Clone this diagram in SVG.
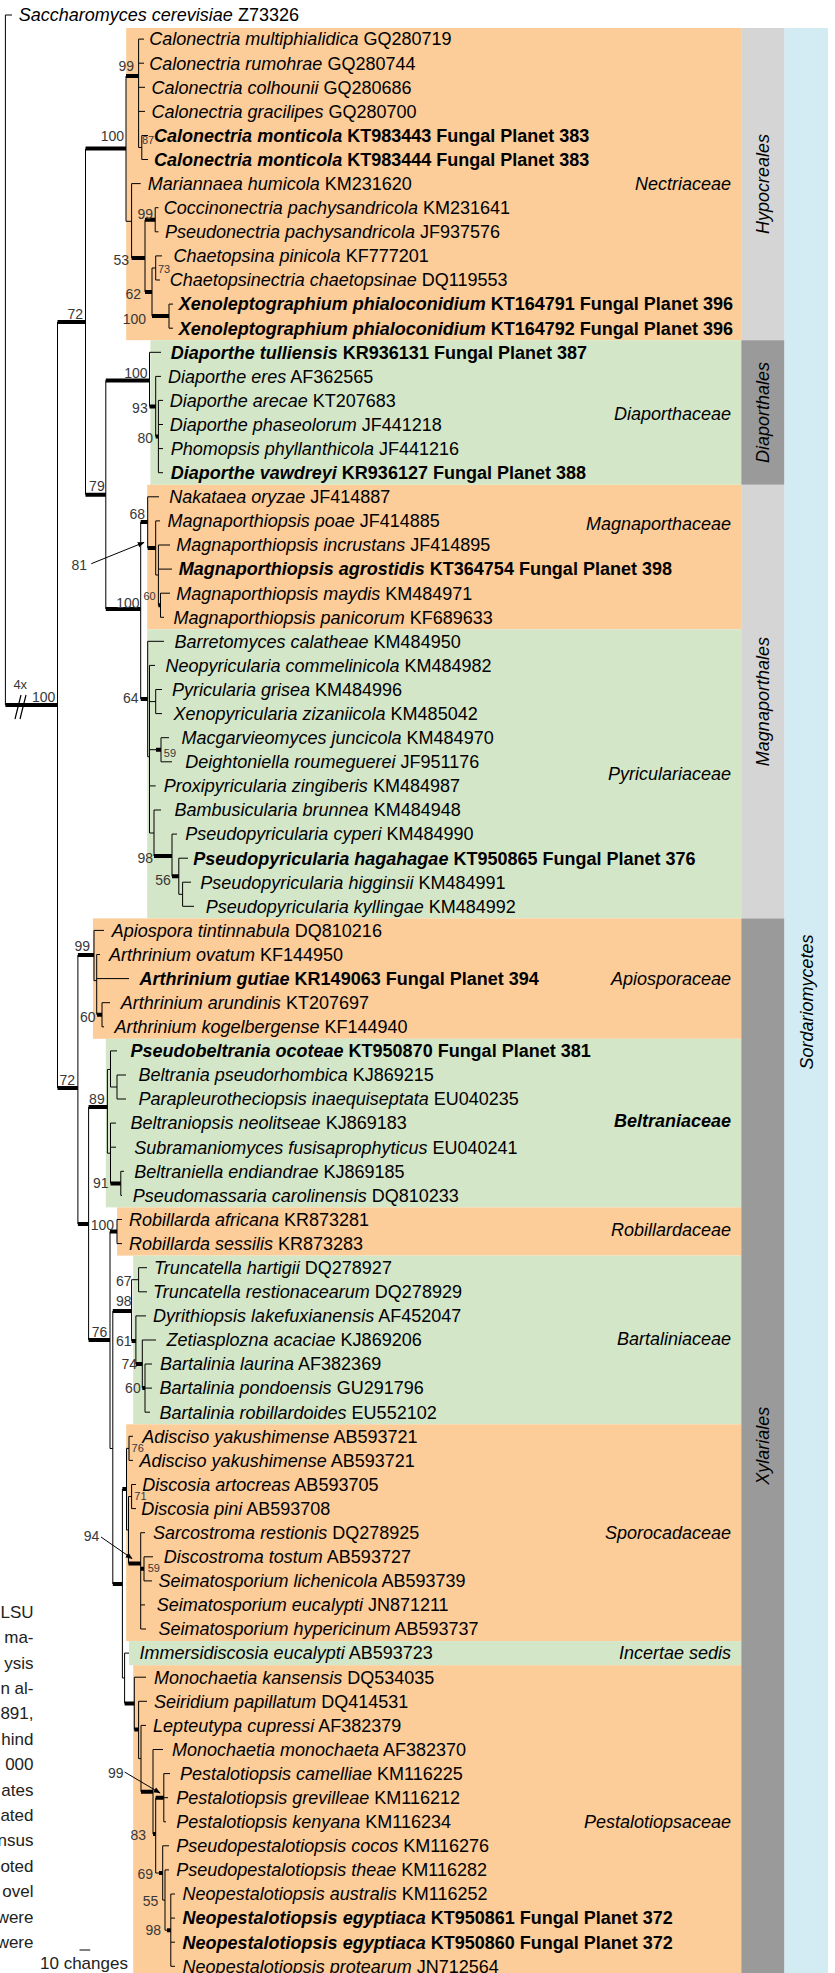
<svg xmlns="http://www.w3.org/2000/svg" width="835" height="1973" viewBox="0 0 835 1973">
<defs>
<style>
.t{font-family:"Liberation Sans",Arial,sans-serif;font-size:18px;fill:#000}
.i{font-style:italic}
.b{font-weight:bold}
.fam{font-family:"Liberation Sans",Arial,sans-serif;font-size:18px;font-style:italic;text-anchor:end;fill:#000}
.ord{font-family:"Liberation Sans",Arial,sans-serif;font-size:18px;font-style:italic;text-anchor:middle;fill:#000}
.bs{font-family:"Liberation Sans",Arial,sans-serif;font-size:14px;fill:#383838;text-anchor:end}
.bss{font-family:"Liberation Sans",Arial,sans-serif;font-size:11px;fill:#383838}
.cap{font-family:"Liberation Sans",Arial,sans-serif;font-size:17px;fill:#222;text-anchor:end}
.thin{fill:none;stroke:#000;stroke-width:1}
.thick{fill:none;stroke:#000;stroke-width:4}
.or{fill:#FCCC99}
.gr{fill:#D4E6C8}
</style>
<marker id="ah" viewBox="0 0 10 10" refX="9" refY="5" markerWidth="7" markerHeight="7" orient="auto"><path d="M0,1 L10,5 L0,9 Z" fill="#000"/></marker>
</defs>
<rect width="835" height="1973" fill="#fff"/>
<g id="bands">
<rect x="784.2" y="28" width="43.8" height="1945" fill="#D3ECF3"/>
<rect x="741.2" y="28" width="43" height="312.2" fill="#D5D5D5"/>
<rect x="741.2" y="340.2" width="43" height="144.6" fill="#9A9A9A"/>
<rect x="741.2" y="484.8" width="43" height="433.6" fill="#D5D5D5"/>
<rect x="741.2" y="918.4" width="43" height="1054.6" fill="#9A9A9A"/>
<rect class="or" x="126.2" y="28" width="615" height="312.2"/>
<rect class="gr" x="150.4" y="340.2" width="590.8" height="144.6"/>
<rect class="or" x="147.2" y="484.8" width="594" height="144.5"/>
<rect class="gr" x="147.2" y="629.3" width="594" height="289.1"/>
<rect class="or" x="92.9" y="918.4" width="648.3" height="120.4"/>
<rect class="gr" x="105.8" y="1038.8" width="635.4" height="168.6"/>
<rect class="or" x="117.1" y="1207.4" width="624.1" height="48.2"/>
<rect class="gr" x="133.2" y="1255.6" width="608" height="168.7"/>
<rect class="or" x="126.2" y="1424.3" width="615" height="216.8"/>
<rect class="gr" x="128.9" y="1641.1" width="612.3" height="24.1"/>
<rect class="or" x="133.2" y="1665.2" width="608" height="307.8"/>
<text class="ord" transform="translate(768.5,184) rotate(-90)">Hypocreales</text>
<text class="ord" transform="translate(768.5,412.5) rotate(-90)">Diaporthales</text>
<text class="ord" transform="translate(768.5,701.6) rotate(-90)">Magnaporthales</text>
<text class="ord" transform="translate(768.5,1445.7) rotate(-90)">Xylariales</text>
<text class="ord" transform="translate(812.5,1002) rotate(-90)">Sordariomycetes</text>
<text class="fam" x="731" y="189.9">Nectriaceae</text>
<text class="fam" x="731" y="420.3">Diaporthaceae</text>
<text class="fam" x="731" y="530.3">Magnaporthaceae</text>
<text class="fam" x="731" y="780.3">Pyriculariaceae</text>
<text class="fam" x="731" y="984.9">Apiosporaceae</text>
<text class="fam" x="731" y="1127.3" font-weight="bold">Beltraniaceae</text>
<text class="fam" x="731" y="1236.3">Robillardaceae</text>
<text class="fam" x="731" y="1345.3">Bartaliniaceae</text>
<text class="fam" x="731" y="1539">Sporocadaceae</text>
<text class="fam" x="731" y="1659.4">Incertae sedis</text>
<text class="fam" x="731" y="1828.1">Pestalotiopsaceae</text>
</g>
<g id="connectors">
<path class="thin" d="M5.4,15V705M5.4,15H12M57.5,322V1088M85.5,149V494.7
M126,76V221.3M138.6,39.1V147.5M138.6,147.5H141.8M141.8,135.5V159.5M131.6,183.6V258M126,221.3H131.6
M145,219.8V292M155.2,207.7V231.8M152,268V316.1M155.7,255.9V280M152,268H155.7M169,304.1V328.2
M105.8,380.4V609M149.5,352.3V406.5M155.7,376.4V436.6M158.4,400.4V472.7
M140.7,521.9V699M147.7,496.8V548M155.7,520.9V575M158.4,545V605.2M155.7,575H158.4M160.5,593.2V617.3M158.4,605.2H160.5
M147.7,641.3V756.7M149.5,665.4V833M147.7,756.7H149.5M155.7,689.5V713.6M149.5,701.6H155.7M161,737.7V761.8M149.5,749.7H161
M154,810V856M149.5,833H154M172,834.1V876.2M178.8,858.2V894.3M182.6,882.2V906.3M178.8,894.3H182.6
M77.9,955V1224M94,930.4V980.6M96.7,954.5V1014.7M94,980.6H96.7M102,1002.7V1026.8
M88.6,1107V1340M107.4,1069.5V1153.2M110.5,1050.9V1087M107.4,1069.5H110.5M117,1075V1099M110.5,1087H117
M110.5,1123.1V1183.4M107.4,1153.2H110.5M120.8,1171.3V1195.4
M110,1231.5V1448.5M117,1219.5V1243.6M112.8,1311V1584M110,1448.5H112.8
M131.6,1279.7V1340.9M138.6,1267.7V1291.8M131.6,1279.7H138.6M135.9,1315.9V1364M142.3,1340V1388.1M145,1364V1412.2
M122.4,1489V1678M126.5,1448.4V1530M129,1436.3V1460.4M126.5,1448.4H129M128.5,1496.5V1563.5M126.5,1530H128.5
M131.6,1484.5V1508.6M128.5,1496.5H131.6M140.7,1532.7V1629M144,1556.8V1580.9M140.7,1568.8H144
M124.6,1653.1V1703.4M122.4,1678H124.6M134.3,1677.2V1729.6M138.6,1701.3V1758.6M141,1725.4V1791.8M138.6,1758.6H141
M153,1749.5V1834M155.7,1797.7V1873M163.8,1773.6V1821.8M162.7,1845.8V1900.1M155.7,1873H162.7M165,1869.9V1930.2M162.7,1900.1H165
M170.8,1894V1966.3M165,1930.2H170.8
M138.6,39.1H144M138.6,63.2H144M138.6,87.3H145M138.6,111.4H145M141.8,135.5H148M141.8,159.5H148M131.6,183.6H140.7
M155.2,207.7H158.5M155.2,231.8H158.5M155.7,255.9H162M155.7,280H160M169,304.1H173M169,328.2H173
M149.5,352.3H161M155.7,376.4H161M158.4,400.4H163M158.4,424.5H163M158.4,448.6H163M158.4,472.7H163
M147.7,496.8H159M155.7,520.9H160M158.4,545H170M158.4,569.1H172M160.5,593.2H170M160.5,617.3H164
M147.7,641.3H164M149.5,665.4H155M155.7,689.5H162M155.7,713.6H162M161,737.7H169M161,761.8H172M149.5,785.9H155.7
M154,810H161M172,834.1H177M178.8,858.2H188M182.6,882.2H191M182.6,906.3H194
M94,930.4H104M96.7,954.5H100M96.7,978.6H129M102,1002.7H110M102,1026.8H104
M110.5,1050.9H117M117,1075H126M117,1099H126M110.5,1123.1H116M110.5,1147.2H116M120.8,1171.3H124M120.8,1195.4H122
M117,1219.5H122M117,1243.6H122M138.6,1267.7H147M138.6,1291.8H147M135.9,1315.9H146M142.3,1340H156
M145,1364H152M145,1388.1H152M145,1412.2H150
M129,1436.3H133M129,1460.4H133M131.6,1484.5H136M131.6,1508.6H136M140.7,1532.7H145M144,1556.8H153M144,1580.9H152
M140.7,1604.9H145M140.7,1629H146M124.6,1653.1H129M134.3,1677.2H146M138.6,1701.3H147M141,1725.4H146
M153,1749.5H163M163.8,1773.6H170M163.8,1797.7H168M163.8,1821.8H166M162.7,1845.8H169M165,1869.9H169
M170.8,1894H175M170.8,1918.1H175M170.8,1942.2H175M170.8,1966.3H175"/>
<path class="thick" d="M5.4,705H57.5M57.5,322H85.5M57.5,1088H77.9M85.5,148.6H126M126,76H138.6M131.6,258H145M145,219.8H155.2
M145,292H152M152,316.1H169M85.5,494.7H105.8M105.8,380.4H149.5M149.5,406.5H155.7M155.7,436.6H158.4
M105.8,609H140.7M140.7,521.9H147.7M147.7,548H155.7M140.7,699H147.7M156,749.7H161M158.4,605.2H160.5
M154,856H172M172,876.2H178.8M77.9,955H94M97,1014.7H102M77.9,1224H88.6M88.6,1107H107.4M110.5,1183.4H120.8
M88.6,1340H110M110,1231.5H117M112.8,1311H131.6M131.6,1340.9H135.9M135.9,1364H142.3M142.3,1388.1H145
M112.8,1584H122.4M122.4,1489H126.5M128.5,1563.5H140.7M140.7,1568.8H144M124.6,1703.4H134.3M134.3,1729.6H138.6
M141,1791.8H153M153,1834H155.7M155.7,1797.7H163.8M159,1873H162.7M167,1930.2H170.8"/>
<path d="M15,719L21,695M20,719L26,695" stroke="#000" stroke-width="1.2" fill="none"/>
<path class="thin" d="M91.3,563.7L144,542.4" marker-end="url(#ah)"/>
<path class="thin" d="M101,1537L132,1558.5" marker-end="url(#ah)"/>
<path class="thin" d="M124.6,1772L160,1793" marker-end="url(#ah)"/>
<path class="thin" d="M79.5,1950H90.2" stroke-width="1.5"/>
</g>
<g id="support">
<text class="bs" x="13.4" y="689" style="text-anchor:start;font-size:13px">4x</text>
<text class="bs" x="32" y="702" style="text-anchor:start">100</text>
<text class="bs" x="134" y="70.5">99</text>
<text class="bs" x="124" y="141">100</text>
<text class="bss" x="142" y="144">87</text>
<text class="bs" x="129" y="264.5">53</text>
<text class="bs" x="153" y="218.5">99</text>
<text class="bss" x="158" y="273">73</text>
<text class="bs" x="141" y="299">62</text>
<text class="bs" x="146" y="323.5">100</text>
<text class="bs" x="83" y="318.5">72</text>
<text class="bs" x="147.5" y="377.5">100</text>
<text class="bs" x="147.7" y="412.5">93</text>
<text class="bs" x="153" y="442.5">80</text>
<text class="bs" x="104.7" y="491">79</text>
<text class="bs" x="145" y="519">68</text>
<text class="bs" x="87" y="570">81</text>
<text class="bss" x="155.7" y="600" style="text-anchor:end">60</text>
<text class="bs" x="139.6" y="607.5">100</text>
<text class="bs" x="138.6" y="703">64</text>
<text class="bss" x="163.8" y="757">59</text>
<text class="bs" x="153" y="863">98</text>
<text class="bs" x="170.8" y="884.5">56</text>
<text class="bs" x="90" y="950.5">99</text>
<text class="bs" x="95.6" y="1022">60</text>
<text class="bs" x="75" y="1085">72</text>
<text class="bs" x="104.7" y="1103.5">89</text>
<text class="bs" x="108.5" y="1188">91</text>
<text class="bs" x="114" y="1230">100</text>
<text class="bs" x="131.6" y="1286">67</text>
<text class="bs" x="131.6" y="1306">98</text>
<text class="bs" x="107.4" y="1336.5">76</text>
<text class="bs" x="131.6" y="1346">61</text>
<text class="bs" x="137" y="1369">74</text>
<text class="bs" x="140.7" y="1393">60</text>
<text class="bss" x="131.6" y="1452">76</text>
<text class="bss" x="134.3" y="1500">71</text>
<text class="bs" x="99.4" y="1540.5">94</text>
<text class="bss" x="147.7" y="1572">59</text>
<text class="bs" x="123.5" y="1778">99</text>
<text class="bs" x="146" y="1840">83</text>
<text class="bs" x="153" y="1878.5">69</text>
<text class="bs" x="158.4" y="1906">55</text>
<text class="bs" x="161" y="1935">98</text>
</g>
<g id="caption">
<text class="cap" x="33.5" y="1617.7">LSU</text>
<text class="cap" x="33.5" y="1643.1">ma-</text>
<text class="cap" x="33.5" y="1668.5">ysis</text>
<text class="cap" x="33.5" y="1693.9">n al-</text>
<text class="cap" x="33.5" y="1719.3">891,</text>
<text class="cap" x="33.5" y="1744.7">hind</text>
<text class="cap" x="33.5" y="1770.1">000</text>
<text class="cap" x="33.5" y="1795.5">ates</text>
<text class="cap" x="33.5" y="1820.9">ated</text>
<text class="cap" x="33.5" y="1846.3">nsus</text>
<text class="cap" x="33.5" y="1871.7">oted</text>
<text class="cap" x="33.5" y="1897.1">ovel</text>
<text class="cap" x="33.5" y="1922.5">were</text>
<text class="cap" x="33.5" y="1947.9">were</text>
<text class="cap" x="40" y="1969" style="text-anchor:start">10 changes</text>
</g>
<g id="taxa">
<g id="n1"><text class="t" x="18.8" y="21.3"><tspan class="i">Saccharomyces cerevisiae</tspan> Z73326</text></g>
<g id="n2"><text class="t" x="149.3" y="45.4"><tspan class="i">Calonectria multiphialidica</tspan> GQ280719</text></g>
<g id="n3"><text class="t" x="149.3" y="69.5"><tspan class="i">Calonectria rumohrae</tspan> GQ280744</text></g>
<g id="n4"><text class="t" x="151.4" y="93.6"><tspan class="i">Calonectria colhounii</tspan> GQ280686</text></g>
<g id="n5"><text class="t" x="151.4" y="117.7"><tspan class="i">Calonectria gracilipes</tspan> GQ280700</text></g>
<g id="n6"><text class="t b" x="154.1" y="141.8"><tspan class="i">Calonectria monticola</tspan> KT983443 Fungal Planet 383</text></g>
<g id="n7"><text class="t b" x="154.1" y="165.8"><tspan class="i">Calonectria monticola</tspan> KT983444 Fungal Planet 383</text></g>
<g id="n8"><text class="t" x="147.7" y="189.9"><tspan class="i">Mariannaea humicola</tspan> KM231620</text></g>
<g id="n9"><text class="t" x="163.8" y="214"><tspan class="i">Coccinonectria pachysandricola</tspan> KM231641</text></g>
<g id="n10"><text class="t" x="164.9" y="238.1"><tspan class="i">Pseudonectria pachysandricola</tspan> JF937576</text></g>
<g id="n11"><text class="t" x="173.5" y="262.2"><tspan class="i">Chaetopsina pinicola</tspan> KF777201</text></g>
<g id="n12"><text class="t" x="169.7" y="286.3"><tspan class="i">Chaetopsinectria chaetopsinae</tspan> DQ119553</text></g>
<g id="n13"><text class="t b" x="178.8" y="310.4"><tspan class="i">Xenoleptographium phialoconidium</tspan> KT164791 Fungal Planet 396</text></g>
<g id="n14"><text class="t b" x="178.8" y="334.5"><tspan class="i">Xenoleptographium phialoconidium</tspan> KT164792 Fungal Planet 396</text></g>
<g id="n15"><text class="t b" x="170.8" y="358.6"><tspan class="i">Diaporthe tulliensis</tspan> KR936131 Fungal Planet 387</text></g>
<g id="n16"><text class="t" x="168.1" y="382.7"><tspan class="i">Diaporthe eres</tspan> AF362565</text></g>
<g id="n17"><text class="t" x="169.7" y="406.7"><tspan class="i">Diaporthe arecae</tspan> KT207683</text></g>
<g id="n18"><text class="t" x="169.7" y="430.8"><tspan class="i">Diaporthe phaseolorum</tspan> JF441218</text></g>
<g id="n19"><text class="t" x="170.8" y="454.9"><tspan class="i">Phomopsis phyllanthicola</tspan> JF441216</text></g>
<g id="n20"><text class="t b" x="170.8" y="479"><tspan class="i">Diaporthe vawdreyi</tspan> KR936127 Fungal Planet 388</text></g>
<g id="n21"><text class="t" x="169.2" y="503.1"><tspan class="i">Nakataea oryzae</tspan> JF414887</text></g>
<g id="n22"><text class="t" x="167.6" y="527.2"><tspan class="i">Magnaporthiopsis poae</tspan> JF414885</text></g>
<g id="n23"><text class="t" x="176.2" y="551.3"><tspan class="i">Magnaporthiopsis incrustans</tspan> JF414895</text></g>
<g id="n24"><text class="t b" x="178.8" y="575.4"><tspan class="i">Magnaporthiopsis agrostidis</tspan> KT364754 Fungal Planet 398</text></g>
<g id="n25"><text class="t" x="176.2" y="599.5"><tspan class="i">Magnaporthiopsis maydis</tspan> KM484971</text></g>
<g id="n26"><text class="t" x="173.5" y="623.6"><tspan class="i">Magnaporthiopsis panicorum</tspan> KF689633</text></g>
<g id="n27"><text class="t" x="174.5" y="647.6"><tspan class="i">Barretomyces calatheae</tspan> KM484950</text></g>
<g id="n28"><text class="t" x="165.4" y="671.7"><tspan class="i">Neopyricularia commelinicola</tspan> KM484982</text></g>
<g id="n29"><text class="t" x="171.9" y="695.8"><tspan class="i">Pyricularia grisea</tspan> KM484996</text></g>
<g id="n30"><text class="t" x="173.5" y="719.9"><tspan class="i">Xenopyricularia zizaniicola</tspan> KM485042</text></g>
<g id="n31"><text class="t" x="181.5" y="744"><tspan class="i">Macgarvieomyces juncicola</tspan> KM484970</text></g>
<g id="n32"><text class="t" x="185.3" y="768.1"><tspan class="i">Deightoniella roumeguerei</tspan> JF951176</text></g>
<g id="n33"><text class="t" x="163.8" y="792.2"><tspan class="i">Proxipyricularia zingiberis</tspan> KM484987</text></g>
<g id="n34"><text class="t" x="174.5" y="816.3"><tspan class="i">Bambusicularia brunnea</tspan> KM484948</text></g>
<g id="n35"><text class="t" x="185.3" y="840.4"><tspan class="i">Pseudopyricularia cyperi</tspan> KM484990</text></g>
<g id="n36"><text class="t b" x="193.3" y="864.5"><tspan class="i">Pseudopyricularia hagahagae</tspan> KT950865 Fungal Planet 376</text></g>
<g id="n37"><text class="t" x="200.3" y="888.5"><tspan class="i">Pseudopyricularia higginsii</tspan> KM484991</text></g>
<g id="n38"><text class="t" x="205.7" y="912.6"><tspan class="i">Pseudopyricularia kyllingae</tspan> KM484992</text></g>
<g id="n39"><text class="t" x="111.7" y="936.7"><tspan class="i">Apiospora tintinnabula</tspan> DQ810216</text></g>
<g id="n40"><text class="t" x="109" y="960.8"><tspan class="i">Arthrinium ovatum</tspan> KF144950</text></g>
<g id="n41"><text class="t b" x="139.6" y="984.9"><tspan class="i">Arthrinium gutiae</tspan> KR149063 Fungal Planet 394</text></g>
<g id="n42"><text class="t" x="120.8" y="1009"><tspan class="i">Arthrinium arundinis</tspan> KT207697</text></g>
<g id="n43"><text class="t" x="114.4" y="1033.1"><tspan class="i">Arthrinium kogelbergense</tspan> KF144940</text></g>
<g id="n44"><text class="t b" x="130.5" y="1057.2"><tspan class="i">Pseudobeltrania ocoteae</tspan> KT950870 Fungal Planet 381</text></g>
<g id="n45"><text class="t" x="138.6" y="1081.3"><tspan class="i">Beltrania pseudorhombica</tspan> KJ869215</text></g>
<g id="n46"><text class="t" x="138.6" y="1105.4"><tspan class="i">Parapleurotheciopsis inaequiseptata</tspan> EU040235</text></g>
<g id="n47"><text class="t" x="130.5" y="1129.4"><tspan class="i">Beltraniopsis neolitseae</tspan> KJ869183</text></g>
<g id="n48"><text class="t" x="134.3" y="1153.5"><tspan class="i">Subramaniomyces fusisaprophyticus</tspan> EU040241</text></g>
<g id="n49"><text class="t" x="134.3" y="1177.6"><tspan class="i">Beltraniella endiandrae</tspan> KJ869185</text></g>
<g id="n50"><text class="t" x="132.7" y="1201.7"><tspan class="i">Pseudomassaria carolinensis</tspan> DQ810233</text></g>
<g id="n51"><text class="t" x="128.9" y="1225.8"><tspan class="i">Robillarda africana</tspan> KR873281</text></g>
<g id="n52"><text class="t" x="128.9" y="1249.9"><tspan class="i">Robillarda sessilis</tspan> KR873283</text></g>
<g id="n53"><text class="t" x="154.1" y="1274"><tspan class="i">Truncatella hartigii</tspan> DQ278927</text></g>
<g id="n54"><text class="t" x="153.1" y="1298.1"><tspan class="i">Truncatella restionacearum</tspan> DQ278929</text></g>
<g id="n55"><text class="t" x="153.1" y="1322.2"><tspan class="i">Dyrithiopsis lakefuxianensis</tspan> AF452047</text></g>
<g id="n56"><text class="t" x="166.5" y="1346.3"><tspan class="i">Zetiasplozna acaciae</tspan> KJ869206</text></g>
<g id="n57"><text class="t" x="160" y="1370.3"><tspan class="i">Bartalinia laurina</tspan> AF382369</text></g>
<g id="n58"><text class="t" x="159.5" y="1394.4"><tspan class="i">Bartalinia pondoensis</tspan> GU291796</text></g>
<g id="n59"><text class="t" x="159.5" y="1418.5"><tspan class="i">Bartalinia robillardoides</tspan> EU552102</text></g>
<g id="n60"><text class="t" x="142.3" y="1442.6"><tspan class="i">Adisciso yakushimense</tspan> AB593721</text></g>
<g id="n61"><text class="t" x="139.6" y="1466.7"><tspan class="i">Adisciso yakushimense</tspan> AB593721</text></g>
<g id="n62"><text class="t" x="142.3" y="1490.8"><tspan class="i">Discosia artocreas</tspan> AB593705</text></g>
<g id="n63"><text class="t" x="141.2" y="1514.9"><tspan class="i">Discosia pini</tspan> AB593708</text></g>
<g id="n64"><text class="t" x="153.1" y="1539"><tspan class="i">Sarcostroma restionis</tspan> DQ278925</text></g>
<g id="n65"><text class="t" x="163.8" y="1563.1"><tspan class="i">Discostroma tostum</tspan> AB593727</text></g>
<g id="n66"><text class="t" x="158.4" y="1587.2"><tspan class="i">Seimatosporium lichenicola</tspan> AB593739</text></g>
<g id="n67"><text class="t" x="156.8" y="1611.2"><tspan class="i">Seimatosporium eucalypti</tspan> JN871211</text></g>
<g id="n68"><text class="t" x="158.4" y="1635.3"><tspan class="i">Seimatosporium hypericinum</tspan> AB593737</text></g>
<g id="n69"><text class="t" x="139.6" y="1659.4"><tspan class="i">Immersidiscosia eucalypti</tspan> AB593723</text></g>
<g id="n70"><text class="t" x="154.1" y="1683.5"><tspan class="i">Monochaetia kansensis</tspan> DQ534035</text></g>
<g id="n71"><text class="t" x="154.1" y="1707.6"><tspan class="i">Seiridium papillatum</tspan> DQ414531</text></g>
<g id="n72"><text class="t" x="153.1" y="1731.7"><tspan class="i">Lepteutypa cupressi</tspan> AF382379</text></g>
<g id="n73"><text class="t" x="171.9" y="1755.8"><tspan class="i">Monochaetia monochaeta</tspan> AF382370</text></g>
<g id="n74"><text class="t" x="179.9" y="1779.9"><tspan class="i">Pestalotiopsis camelliae</tspan> KM116225</text></g>
<g id="n75"><text class="t" x="176.2" y="1804"><tspan class="i">Pestalotiopsis grevilleae</tspan> KM116212</text></g>
<g id="n76"><text class="t" x="176.2" y="1828.1"><tspan class="i">Pestalotiopsis kenyana</tspan> KM116234</text></g>
<g id="n77"><text class="t" x="176.2" y="1852.1"><tspan class="i">Pseudopestalotiopsis cocos</tspan> KM116276</text></g>
<g id="n78"><text class="t" x="176.2" y="1876.2"><tspan class="i">Pseudopestalotiopsis theae</tspan> KM116282</text></g>
<g id="n79"><text class="t" x="182.6" y="1900.3"><tspan class="i">Neopestalotiopsis australis</tspan> KM116252</text></g>
<g id="n80"><text class="t b" x="182.6" y="1924.4"><tspan class="i">Neopestalotiopsis egyptiaca</tspan> KT950861 Fungal Planet 372</text></g>
<g id="n81"><text class="t b" x="182.6" y="1948.5"><tspan class="i">Neopestalotiopsis egyptiaca</tspan> KT950860 Fungal Planet 372</text></g>
<g id="n82"><text class="t" x="182.6" y="1972.6"><tspan class="i">Neopestalotiopsis protearum</tspan> JN712564</text></g>
</g>
</svg>
